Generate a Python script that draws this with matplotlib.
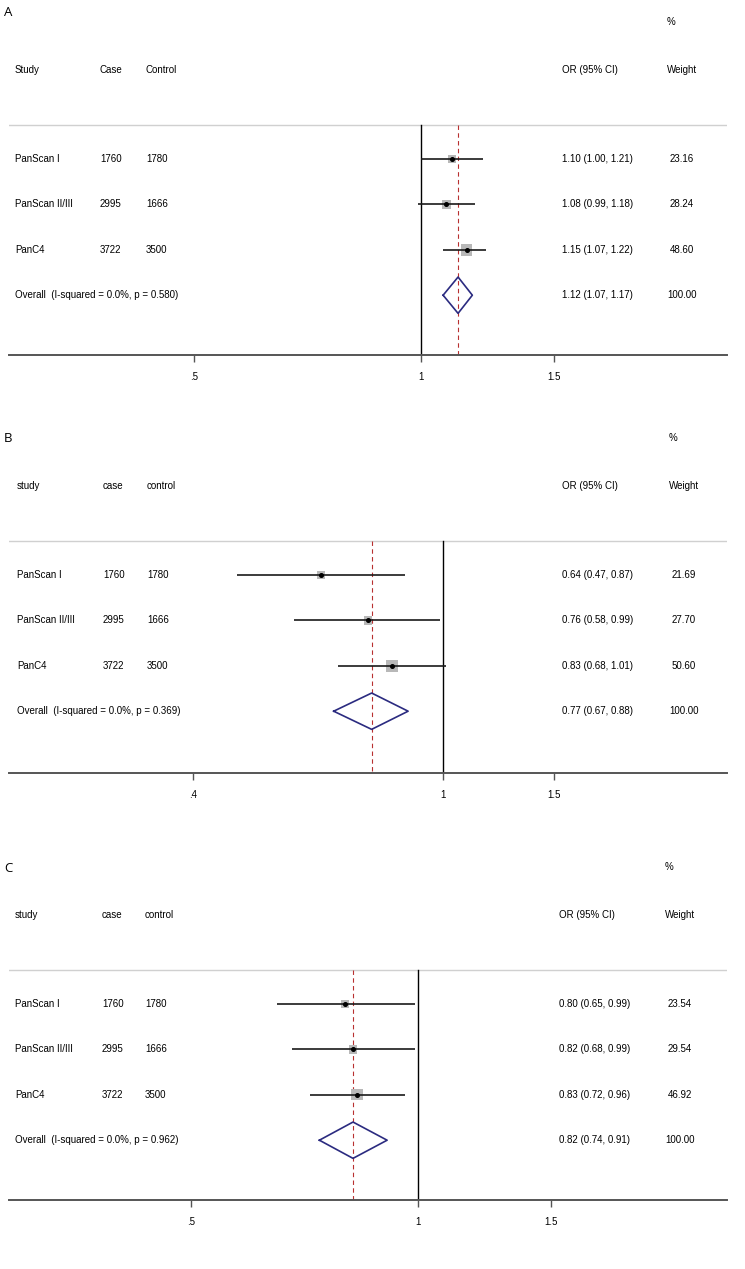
import matplotlib
matplotlib.use("Agg")
import matplotlib.pyplot as plt
import numpy as np
from matplotlib.ticker import FixedLocator, FixedFormatter, NullLocator

plt.rcParams["font.family"] = ["Liberation Sans", "DejaVu Sans"]

# ---- data ----
studies = ["PanScan I", "PanScan II/III", "PanC4"]
cases = [1760, 2995, 3722]
controls = [1780, 1666, 3500]

# panel A
a_or = [1.10, 1.08, 1.15]
a_lo = [1.00, 0.99, 1.07]
a_hi = [1.21, 1.18, 1.22]
a_wt = [23.16, 28.24, 48.60]
a_overall = [1.12, 1.07, 1.17]
a_p = "0.580"
a_ticks = [0.5, 1, 1.5]
a_ticklabels = [".5", "1", "1.5"]

# panel B
b_or = [0.64, 0.76, 0.83]
b_lo = [0.47, 0.58, 0.68]
b_hi = [0.87, 0.99, 1.01]
b_wt = [21.69, 27.70, 50.60]
b_overall = [0.77, 0.67, 0.88]
b_p = "0.369"
b_ticks = [0.4, 1, 1.5]
b_ticklabels = [".4", "1", "1.5"]

# panel C
c_or = [0.80, 0.82, 0.83]
c_lo = [0.65, 0.68, 0.72]
c_hi = [0.99, 0.99, 0.96]
c_wt = [23.54, 29.54, 46.92]
c_overall = [0.82, 0.74, 0.91]
c_p = "0.962"
c_ticks = [0.5, 1, 1.5]
c_ticklabels = [".5", "1", "1.5"]

W, H = 745, 1269
AX_L, AX_R = 8.5, 727.0
UNIT = 45.4  # pixels between rows

fig = plt.figure(figsize=(W / 100, H / 100), dpi=100)


def fx(px):
    return (px - AX_L) / (AX_R - AX_L)


def panel(label, label_y, first_row, axis_y, one_px, px_per_ln, headers, col_x,
          ors, los, his, wts, overall, pval, ticks, ticklabels):
    ybot = 1 + (axis_y - first_row) / UNIT
    ytop = -2.5
    top_px = first_row - (1 - ytop) * UNIT
    ax = fig.add_axes([AX_L / W, 1 - axis_y / H, (AX_R - AX_L) / W, (axis_y - top_px) / H])
    ax.set_xscale("log")
    ax.set_xlim(np.exp(-(one_px - AX_L) / px_per_ln), np.exp((AX_R - one_px) / px_per_ln))
    ax.set_ylim(ybot, ytop)

    for s in ["top", "left", "right"]:
        ax.spines[s].set_visible(False)
    ax.spines["bottom"].set_color("#555555")
    ax.spines["bottom"].set_linewidth(1.4)
    ax.xaxis.set_major_locator(FixedLocator(ticks))
    ax.xaxis.set_major_formatter(FixedFormatter(ticklabels))
    ax.xaxis.set_minor_locator(NullLocator())
    ax.tick_params(axis="x", direction="out", length=5, width=1, color="#555555",
                   labelsize=7, pad=7)
    ax.set_yticks([])

    rows = np.arange(1, len(ors) + 1)
    orow = len(ors) + 1
    tr = ax.get_yaxis_transform()

    # separators and reference lines
    ax.axhline(0.25, color="#d0d0d0", lw=1.0)
    ax.plot([1, 1], [0.25, ybot], color="black", lw=1.0)
    ax.plot([overall[0]] * 2, [0.25, ybot], color="#b83030", lw=0.8,
            ls=(0, (4, 3)))

    # study estimates, box area ~ weight
    ax.scatter(ors, rows, marker="s", s=[1.4 * w for w in wts], color="#b8b8b8",
               zorder=2, linewidths=0)
    ax.hlines(rows, los, his, color="#1a1a1a", lw=1.2, zorder=3)
    ax.plot(ors, rows, "o", color="black", ms=2.6, zorder=4)

    # pooled diamond
    dx = [overall[1], overall[0], overall[2], overall[0], overall[1]]
    dy = [orow, orow - 0.4, orow, orow + 0.4, orow]
    ax.plot(dx, dy, color="#2b2b80", lw=1.2, zorder=4)

    # text columns
    fs = 7
    xs, xc, xk, xo, xw = col_x
    ax.text(fx(xs), -0.96, headers[0], transform=tr, fontsize=fs, va="center")
    ax.text(fx(xc), -0.96, headers[1], transform=tr, fontsize=fs, va="center")
    ax.text(fx(xk), -0.96, headers[2], transform=tr, fontsize=fs, va="center")
    ax.text(fx(xo), -0.96, "OR (95% CI)", transform=tr, fontsize=fs, va="center")
    ax.text(fx(xw), -0.96, "Weight", transform=tr, fontsize=fs, va="center", ha="center")
    ax.text(fx(xw - 15), -2.02, "%", transform=tr, fontsize=fs, va="center")

    for r, name, ca, co, o, lo, hi, w in zip(rows, studies, cases, controls, ors, los, his, wts):
        ax.text(fx(xs), r, name, transform=tr, fontsize=fs, va="center")
        ax.text(fx(xc), r, str(ca), transform=tr, fontsize=fs, va="center")
        ax.text(fx(xk), r, str(co), transform=tr, fontsize=fs, va="center")
        ax.text(fx(xo), r, f"{o:.2f} ({lo:.2f}, {hi:.2f})", transform=tr,
                fontsize=fs, va="center")
        ax.text(fx(xw), r, f"{w:.2f}", transform=tr, fontsize=fs, va="center", ha="center")

    ax.text(fx(xs), orow, f"Overall  (I-squared = 0.0%, p = {pval})", transform=tr,
            fontsize=fs, va="center")
    ax.text(fx(xo), orow, f"{overall[0]:.2f} ({overall[1]:.2f}, {overall[2]:.2f})",
            transform=tr, fontsize=fs, va="center")
    ax.text(fx(xw), orow, "100.00", transform=tr, fontsize=fs, va="center", ha="center")

    fig.text(4 / W, 1 - label_y / H, label, fontsize=9.5, va="center",
             family=["Open Sans", "DejaVu Sans"])
    return ax


panel("A", 12, 159, 355, 421, 327.0, ["Study", "Case", "Control"],
      (15, 100, 146, 562, 682),
      a_or, a_lo, a_hi, a_wt, a_overall, a_p, a_ticks, a_ticklabels)
panel("B", 438, 575, 773, 443, 273.0, ["study", "case", "control"],
      (17, 103, 147, 562, 684),
      b_or, b_lo, b_hi, b_wt, b_overall, b_p, b_ticks, b_ticklabels)
panel("C", 868, 1004, 1200, 418, 327.5, ["study", "case", "control"],
      (15, 102, 145, 559, 680),
      c_or, c_lo, c_hi, c_wt, c_overall, c_p, c_ticks, c_ticklabels)

fig.savefig("out.png", dpi=100)
